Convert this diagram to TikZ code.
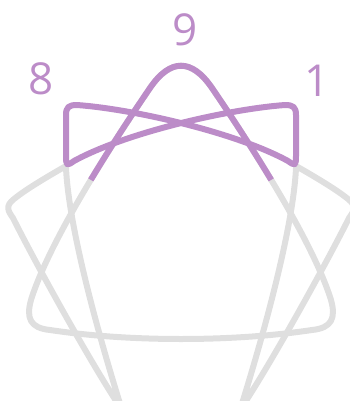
\documentclass[tikz,border=0pt]{standalone}
\usepackage{fontspec}
\setmainfont{Open Sans}
\definecolor{enpurple}{RGB}{188,140,200}
\definecolor{engray}{RGB}{223,223,223}
\begin{document}
\begin{tikzpicture}[x=1pt,y=-1pt,
  grayline/.style={draw=engray,line width=6pt,line join=round,line cap=round},
  purpleline/.style={draw=enpurple,line width=6pt,line join=round,line cap=round},
  numlabel/.style={text=enpurple,font=\fontsize{44}{44}\selectfont,anchor=base,inner sep=0pt}]
\useasboundingbox (0,0) rectangle (350,401);
\clip (0,0) rectangle (350,401);

% triad 9-3-6
\draw[grayline] (150,88) .. controls (105,154) and (48,245) .. (31,300)
  .. controls (26,318) and (30,328) .. (50,330)
  .. controls (130,342) and (232,342) .. (312,330)
  .. controls (332,328) and (336,318) .. (331,300)
  .. controls (314,245) and (257,154) .. (212,88)
  .. controls (191.7,58.3) and (170.3,58.3) .. (150,88) -- cycle;

% hexad, left part 8-7-5
\draw[grayline] (66,166) .. controls (45,178) and (25,190) .. (14,199)
  .. controls (5,206) and (8,211) .. (13,218)
  .. controls (35,262) and (90,362) .. (122,410)
  .. controls (100,340) and (69,230) .. (66,168) -- cycle;

% hexad, right part 1-2-4
\begin{scope}[shift={(362,0)},xscale=-1]
\draw[grayline] (66,166) .. controls (45,178) and (25,190) .. (14,199)
  .. controls (5,206) and (8,211) .. (13,218)
  .. controls (35,262) and (90,362) .. (122,410)
  .. controls (100,340) and (69,230) .. (66,168) -- cycle;
\end{scope}

% purple part of the triad at 9
\draw[purpleline,line cap=butt] (90.8,179.9) .. controls (110.1,147.8) and (131.1,115.7) .. (150,88)
  .. controls (170.3,58.3) and (191.7,58.3) .. (212,88)
  .. controls (230.9,115.7) and (251.9,147.8) .. (271.2,179.9);

% purple bow tie 8-1
\draw[purpleline] (66,156) -- (66,115) .. controls (66,107) and (69,105) .. (77,105)
  .. controls (132,109) and (235,132) .. (288,161)
  .. controls (295,166) and (296,166) .. (296,156)
  -- (296,115) .. controls (296,107) and (293,105) .. (285,105)
  .. controls (230,109) and (127,132) .. (74,161)
  .. controls (67,166) and (66,166) .. (66,156) -- cycle;

\node[numlabel] (n9) at (185,46) {9};
\node[numlabel] (n8) at (41,95) {8};
\node[numlabel] (n1) at (317,97) {1};
\end{tikzpicture}
\end{document}
